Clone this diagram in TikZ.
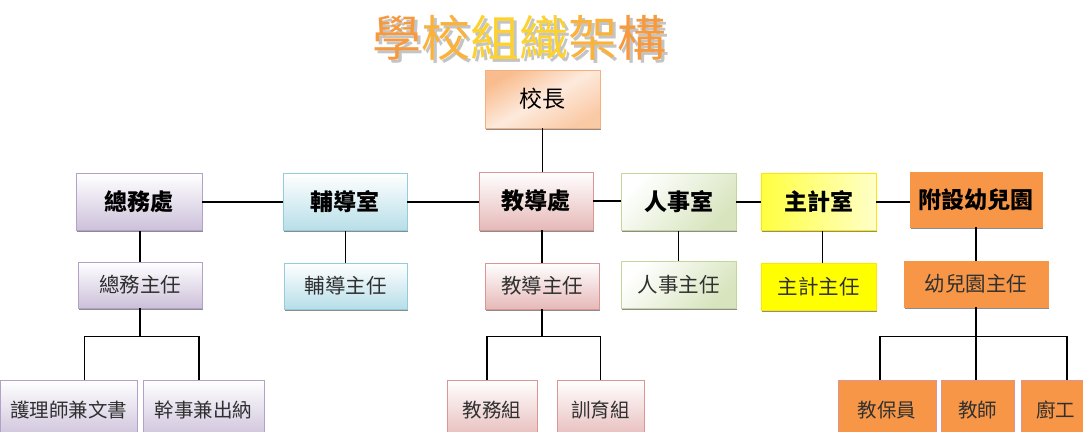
\documentclass[tikz,border=0pt]{standalone}
\usepackage{fontspec}
\newfontfamily\cjk{Noto Sans CJK TC}
\usetikzlibrary{shadows}
\definecolor{purpF}{HTML}{CCC0DA}
\definecolor{purpB}{HTML}{B3A2C7}
\definecolor{blueF}{HTML}{B7DEE8}
\definecolor{blueB}{HTML}{93CDDD}
\definecolor{pinkF}{HTML}{E6B9B8}
\definecolor{pinkB}{HTML}{D99694}
\definecolor{greenF}{HTML}{D7E4BD}
\definecolor{greenB}{HTML}{C3D69B}
\definecolor{yelL}{HTML}{FFFF40}
\definecolor{yelR}{HTML}{FFFFC8}
\definecolor{yelB}{HTML}{FFE600}
\definecolor{yelS}{HTML}{FFFF00}
\definecolor{orF}{HTML}{F79646}
\definecolor{headD}{HTML}{F9BC8E}
\definecolor{headL}{HTML}{FDEADC}
\definecolor{headB}{HTML}{F5B080}
\definecolor{txt}{HTML}{303030}
\definecolor{tA}{HTML}{F79A3E}
\definecolor{tB}{HTML}{FAB23A}
\definecolor{tC}{HTML}{FDD22E}
\definecolor{tS}{HTML}{C4C4C4}
\begin{document}
\begin{tikzpicture}[x=1pt,y=-1pt,
  sz/.style 2 args={minimum width=#1pt, minimum height=#2pt},
  basebox/.style={draw, line width=0.8pt, inner sep=0pt, align=center},
  shbox/.style={basebox, drop shadow={shadow xshift=1.2pt, shadow yshift=-1.8pt, fill=black, opacity=0.45}},
  hdbox/.style={shbox, font=\cjk\bfseries\fontsize{23}{23}\selectfont, text=black},
  subbox/.style={shbox, font=\cjk\fontsize{20.5}{20.5}\selectfont, text=txt},
  leafbox/.style={basebox, font=\cjk\fontsize{19.5}{19.5}\selectfont, text=txt},
  linkline/.style={line width=1.2pt, black},
  purpfill/.style={draw=purpB, top color=white, bottom color=purpF},
  bluefill/.style={draw=blueB, top color=white, bottom color=blueF},
  pinkfill/.style={draw=pinkB, top color=white, bottom color=pinkF},
  greenfill/.style={draw=greenB, top color=white, bottom color=greenF, shading angle=45},
  yelfill/.style={draw=yelB, left color=yelL, right color=yelR},
  yelsolid/.style={draw=yelB, fill=yelS},
  orfill/.style={draw=orF, fill=orF},
  orleaf/.style={draw=pinkB, fill=orF},
  headfill/.style={draw=headB, top color=headD, bottom color=headD!70!headL, middle color=headL, shading angle=30}
]
\useasboundingbox (0,0) rectangle (1083,431);
\clip (0,0) rectangle (1083,431);

% title
\node[font=\cjk\fontsize{49}{49}\selectfont, text=tS] (titsh) at (522,41) {學校組織架構};
\node[font=\cjk\fontsize{49}{49}\selectfont] (title) at (519,38)
  {\textcolor{tA}{學}\textcolor{tB}{校}\textcolor{tC}{組}\textcolor{tC}{織}\textcolor{tB}{架}\textcolor{tA}{構}};

% principal
\node[hdbox, headfill, sz={115}{58}, font=\cjk\fontsize{23}{23}\selectfont] (head) at (542.5,99) {校長};

% row 2
\node[hdbox, purpfill, sz={126}{57}] (zw) at (139,202) {總務處};
\node[hdbox, bluefill, sz={124}{57}] (fd) at (345,202) {輔導室};
\node[hdbox, pinkfill, sz={114}{58}] (jd) at (536,201) {教導處};
\node[hdbox, greenfill, sz={115}{57}] (rs) at (678.5,202) {人事室};
\node[hdbox, yelfill, sz={115}{57}] (zj) at (818.5,202) {主計室};
\node[hdbox, orfill, sz={132}{55}] (fy) at (976,199.5) {附設幼兒園};

% row 3
\node[subbox, purpfill, sz={124}{46}] (zwr) at (140,285) {總務主任};
\node[subbox, bluefill, sz={123}{46}] (fdr) at (345.5,286) {輔導主任};
\node[subbox, pinkfill, sz={114}{46}] (jdr) at (542,286) {教導主任};
\node[subbox, greenfill, sz={115}{47}] (rsr) at (678.5,284.5) {人事主任};
\node[subbox, yelsolid, sz={115}{47}] (zjr) at (818.5,286.5) {主計主任};
\node[subbox, orfill, sz={144}{46}] (fyr) at (976,284) {幼兒園主任};

% row 4
\node[leafbox, purpfill, sz={136.5}{60}] (n1) at (68.75,410) {護理師兼文書};
\node[leafbox, purpfill, sz={121}{60}] (n2) at (203.5,410) {幹事兼出納};
\node[leafbox, pinkfill, sz={90}{60}] (n3) at (492,410) {教務組};
\node[leafbox, pinkfill, sz={87}{60}] (n4) at (600.5,410) {訓育組};
\node[leafbox, orleaf, sz={98}{60}] (n5) at (887,410) {教保員};
\node[leafbox, orleaf, sz={73}{60}] (n6) at (977.5,410) {教師};
\node[leafbox, orleaf, sz={69}{60}] (n7) at (1055.5,410) {廚工};

% connectors
\draw[linkline] (head.south) -- (head.south |- jd.north);
\draw[linkline] (zw.east) -- (zw.east -| fd.west);
\draw[linkline] (fd.east) -- (fd.east -| jd.west);
\draw[linkline] (jd.east) -- (jd.east -| rs.west);
\draw[linkline] (rs.east) -- (rs.east -| zj.west);
\draw[linkline] (zj.east) -- (zj.east -| fy.west);

\draw[linkline] (zwr.north |- zw.south) -- (zwr.north);
\draw[linkline] (fdr.north |- fd.south) -- (fdr.north);
\draw[linkline] (jdr.north |- jd.south) -- (jdr.north);
\draw[linkline] (rsr.north |- rs.south) -- (rsr.north);
\draw[linkline] ([xshift=4pt]zjr.north |- zj.south) -- ([xshift=4pt]zjr.north);
\draw[linkline] (fyr.north |- fy.south) -- (fyr.north);

\path (zwr.south) ++(0,28) coordinate (bz);
\path (jdr.south) ++(0,27) coordinate (bj);
\path (fyr.south) ++(0,29) coordinate (bf);

\draw[linkline] (zwr.south) -- (bz);
\draw[linkline] (bz) -| ([xshift=16pt]n1.north);
\draw[linkline] (bz) -| ([xshift=-4.5pt]n2.north);

\draw[linkline] (jdr.south) -- (bj);
\draw[linkline] (bj) -| ([xshift=-5pt]n3.north);
\draw[linkline] (bj) -| (n4.north);

\draw[linkline] (fyr.south) -- (bf);
\draw[linkline] (bf) -| ([xshift=-7pt]n5.north);
\draw[linkline] (bf) -| ([xshift=-1.5pt]n6.north);
\draw[linkline] (bf) -| ([xshift=11.5pt]n7.north);
\end{tikzpicture}
\end{document}
